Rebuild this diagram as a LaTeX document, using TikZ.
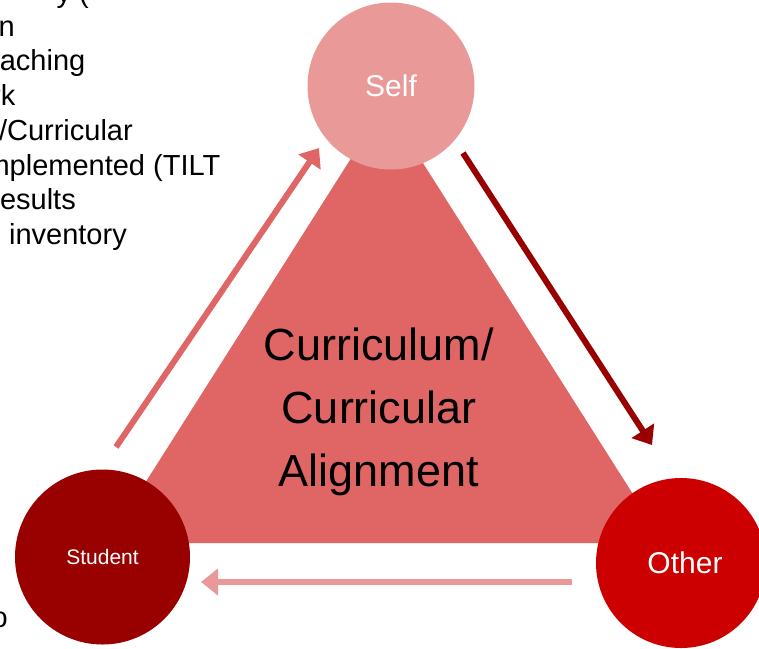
\documentclass[tikz,border=0pt]{standalone}
\usepackage{fontspec}
\setmainfont{Liberation Sans}
\usetikzlibrary{arrows.meta}
\definecolor{selfpink}{HTML}{EA9999}
\definecolor{trired}{HTML}{E06666}
\definecolor{studentred}{HTML}{990000}
\definecolor{otherred}{HTML}{CC0000}
\tikzset{
  phase/.style={circle, inner sep=0pt, text=white},
  cyclearrow/.style={line width=6pt, -{Triangle[length=17pt,width=26pt]}},
  sidetext/.style={anchor=base east, inner sep=0pt, font=\fontsize{29}{34}\selectfont}
}
\begin{document}
\begin{tikzpicture}[x=1pt,y=-1pt]
  \useasboundingbox (0,0) rectangle (759,648);
  \clip (0,0) rectangle (759,648);

  % Drawing side text (cut at the left edge)
  \node [sidetext] (t0) at (89,2) {y (};
  \node [sidetext] (t1) at (15,36) {n};
  \node [sidetext] (t2) at (85.5,70.5) {aching};
  \node [sidetext] (t3) at (15.5,105) {rk};
  \node [sidetext] (t4) at (133,140) {/Curricular};
  \node [sidetext] (t5) at (220.5,175) {mplemented (TILT};
  \node [sidetext] (t6) at (76,209.5) {esults};
  \node [sidetext] (t7) at (127,244) {o inventory};
  \node [sidetext] (t8) at (8,627) {o};

  % Drawing triangle apex baseL baseR
  \coordinate (apex) at (385.5,104);
  \coordinate (baseL) at (107,543);
  \coordinate (baseR) at (664,543);
  \fill [trired] (apex) -- (baseL) -- (baseR) -- cycle;
  \node [align=center, inner sep=0pt, font=\fontsize{45}{63}\selectfont] (core) at (379,412)
    {Curriculum/\\Curricular\\Alignment};

  % Marking nodes Self, Student, Other
  \node [phase, fill=selfpink, minimum size=167pt, font=\fontsize{30}{36}\selectfont] (self) at (391,86) {Self};
  \node [phase, fill=studentred, minimum size=175pt, font=\fontsize{21}{25}\selectfont] (student) at (102.5,557) {Student};
  \node [phase, fill=otherred, minimum size=170pt, font=\fontsize{30}{36}\selectfont] (other) at (681,563) {\hspace{8pt}Other};

  % Drawing arrows of the cycle
  \coordinate (stTail) at (116,447);
  \coordinate (seTip) at (319,148);
  \coordinate (seTail) at (463,153);
  \coordinate (otTip) at (652,445);
  \coordinate (otTail) at (572,582);
  \coordinate (stTip) at (201,582);
  \draw [cyclearrow, trired] (stTail) -- (seTip);
  \draw [cyclearrow, studentred] (seTail) -- (otTip);
  \draw [cyclearrow, selfpink] (otTail) -- (stTip);
\end{tikzpicture}
\end{document}
